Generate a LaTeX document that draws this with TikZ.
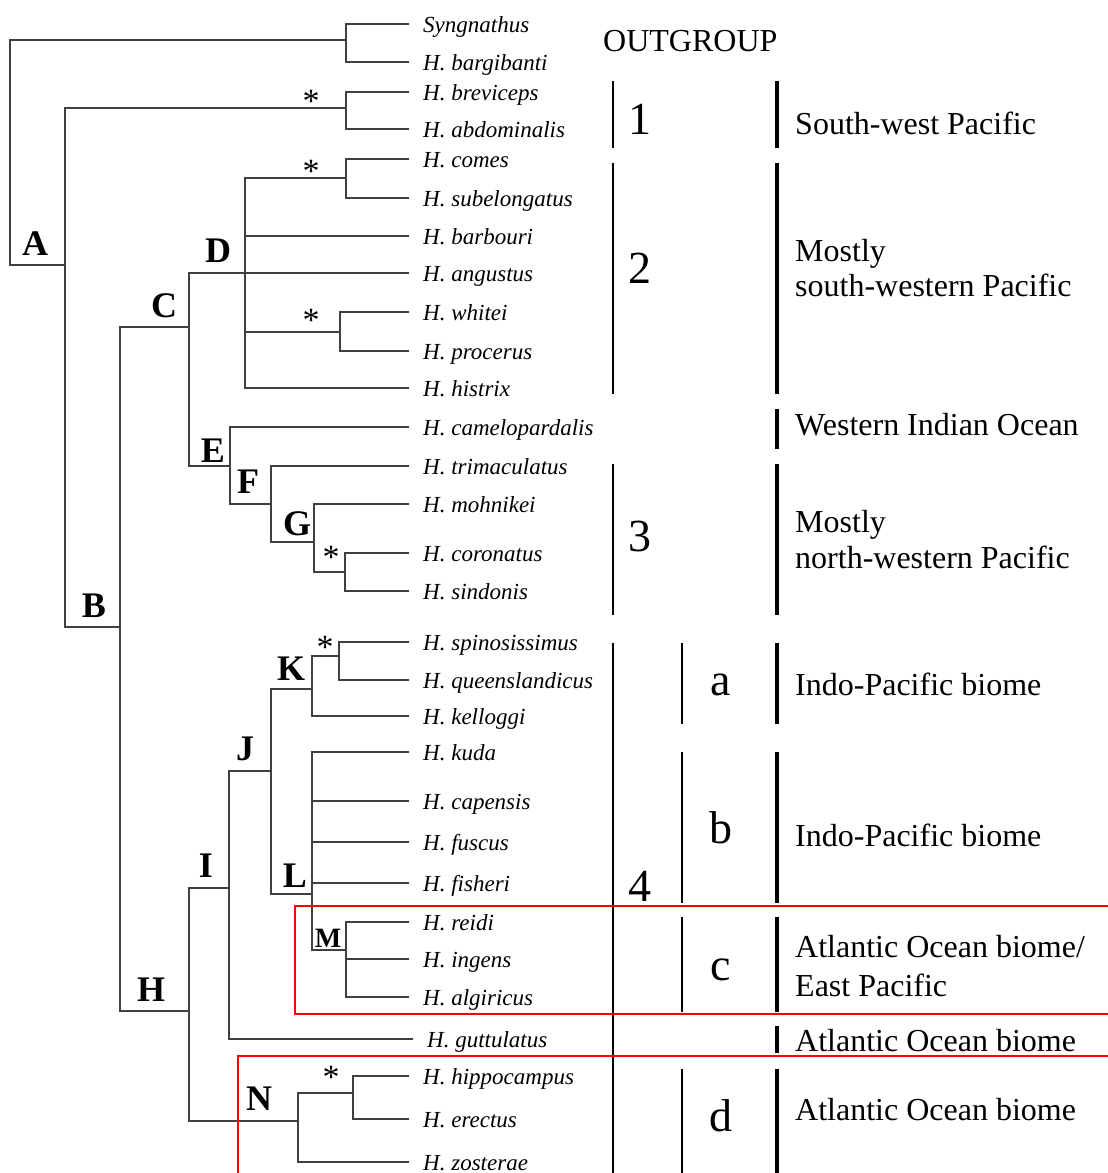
\documentclass[tikz,border=0pt]{standalone}
\usepackage{fontspec}
\setmainfont{Liberation Serif}
\begin{document}
\begin{tikzpicture}[x=1pt,y=-1pt]
\tikzstyle{branch} = [line width=1.6pt, draw=black!75]
\tikzstyle{species} = [anchor=west, inner xsep=14pt, inner ysep=0pt, text height=19pt, text depth=3pt, font=\fontsize{23}{26}\selectfont\itshape]
\tikzstyle{clade} = [anchor=base, inner sep=0pt, font=\fontsize{36}{40}\selectfont\bfseries]
\tikzstyle{support} = [anchor=base, inner sep=0pt, font=\fontsize{34}{36}\selectfont]
\tikzstyle{groupnum} = [anchor=base, inner sep=0pt, font=\fontsize{46}{50}\selectfont]
\tikzstyle{region} = [anchor=base west, inner sep=0pt, font=\fontsize{32}{37}\selectfont]
\tikzstyle{thinbar} = [line width=1.6pt]
\tikzstyle{thickbar} = [line width=3.6pt]
\tikzstyle{redbox} = [line width=1.6pt, draw=red]

\useasboundingbox (0,0) rectangle (1108,1173);

% species
\node(spSyngnathus) [species] at (409,24) {Syngnathus};
\node(spBargibanti) [species] at (409,62) {H. bargibanti};
\node(spBreviceps) [species] at (409,92) {H. breviceps};
\node(spAbdominalis) [species] at (409,129) {H. abdominalis};
\node(spComes) [species] at (409,159) {H. comes};
\node(spSubelongatus) [species] at (409,198) {H. subelongatus};
\node(spBarbouri) [species] at (409,236) {H. barbouri};
\node(spAngustus) [species] at (409,273) {H. angustus};
\node(spWhitei) [species] at (409,312) {H. whitei};
\node(spProcerus) [species] at (409,351) {H. procerus};
\node(spHistrix) [species] at (409,388) {H. histrix};
\node(spCamelopardalis) [species] at (409,427) {H. camelopardalis};
\node(spTrimaculatus) [species] at (409,466) {H. trimaculatus};
\node(spMohnikei) [species] at (409,504) {H. mohnikei};
\node(spCoronatus) [species] at (409,553) {H. coronatus};
\node(spSindonis) [species] at (409,591) {H. sindonis};
\node(spSpinosissimus) [species] at (409,642) {H. spinosissimus};
\node(spQueenslandicus) [species] at (409,680) {H. queenslandicus};
\node(spKelloggi) [species] at (409,716) {H. kelloggi};
\node(spKuda) [species] at (409,752) {H. kuda};
\node(spCapensis) [species] at (409,801) {H. capensis};
\node(spFuscus) [species] at (409,842) {H. fuscus};
\node(spFisheri) [species] at (409,883) {H. fisheri};
\node(spReidi) [species] at (409,922) {H. reidi};
\node(spIngens) [species] at (409,959) {H. ingens};
\node(spAlgiricus) [species] at (409,997) {H. algiricus};
\node(spGuttulatus) [species] at (413,1039) {H. guttulatus};
\node(spHippocampus) [species] at (409,1076) {H. hippocampus};
\node(spErectus) [species] at (409,1119) {H. erectus};
\node(spZosterae) [species] at (409,1162) {H. zosterae};

% inner nodes
\coordinate (nRoot) at (10,150);
\coordinate (nOut) at (346,40);
\coordinate (nA) at (65,265);
\coordinate (nOne) at (346,108);
\coordinate (nB) at (120,627);
\coordinate (nC) at (189,327);
\coordinate (nD) at (245,273);
\coordinate (nComes) at (346,178);
\coordinate (nWhitei) at (340,332);
\coordinate (nE) at (230,466);
\coordinate (nF) at (271,504);
\coordinate (nG) at (314,542);
\coordinate (nCor) at (345,572);
\coordinate (nH) at (189,1011);
\coordinate (nI) at (229,888);
\coordinate (nJ) at (271,771);
\coordinate (nK) at (312,689);
\coordinate (nSpin) at (339,656);
\coordinate (nL) at (312,894);
\coordinate (nM) at (346,950);
\coordinate (nN) at (298,1121);
\coordinate (nHip) at (353,1093);

% branches
\draw[branch] (nOut) -| (nRoot) |- (nA);
\draw[branch] (spSyngnathus.west) -| (nOut) |- (spBargibanti.west);
\draw[branch] (nOne) -| (nA) |- (nB);
\draw[branch] (spBreviceps.west) -| (nOne) |- (spAbdominalis.west);
\draw[branch] (nC) -| (nB) |- (nH);
\draw[branch] (nD) -| (nC) |- (nE);
\draw[branch] (nComes) -| (nD) |- (spHistrix.west);
\draw[branch] (spComes.west) -| (nComes) |- (spSubelongatus.west);
\draw[branch] (nD |- spBarbouri.west) -- (spBarbouri.west);
\draw[branch] (nD |- spAngustus.west) -- (spAngustus.west);
\draw[branch] (nD |- nWhitei) -- (nWhitei);
\draw[branch] (spWhitei.west) -| (nWhitei) |- (spProcerus.west);
\draw[branch] (spCamelopardalis.west) -| (nE) |- (nF);
\draw[branch] (spTrimaculatus.west) -| (nF) |- (nG);
\draw[branch] (spMohnikei.west) -| (nG) |- (nCor);
\draw[branch] (spCoronatus.west) -| (nCor) |- (spSindonis.west);
\draw[branch] (nI) -| (nH) |- (nN);
\draw[branch] (nJ) -| (nI) |- (spGuttulatus.west);
\draw[branch] (nK) -| (nJ) |- (nL);
\draw[branch] (nSpin) -| (nK) |- (spKelloggi.west);
\draw[branch] (spSpinosissimus.west) -| (nSpin) |- (spQueenslandicus.west);
\draw[branch] (spKuda.west) -| (nL) |- (nM);
\draw[branch] (nL |- spCapensis.west) -- (spCapensis.west);
\draw[branch] (nL |- spFuscus.west) -- (spFuscus.west);
\draw[branch] (nL |- spFisheri.west) -- (spFisheri.west);
\draw[branch] (spReidi.west) -| (nM) |- (spAlgiricus.west);
\draw[branch] (nM |- spIngens.west) -- (spIngens.west);
\draw[branch] (nHip) -| (nN) |- (spZosterae.west);
\draw[branch] (spHippocampus.west) -| (nHip) |- (spErectus.west);

% clade letters
\node(labA) [clade] at (35,255) {A};
\node(labB) [clade] at (94,617) {B};
\node(labC) [clade] at (164,317) {C};
\node(labD) [clade] at (218,262) {D};
\node(labE) [clade] at (213,462) {E};
\node(labF) [clade] at (248,493) {F};
\node(labG) [clade] at (297,535) {G};
\node(labH) [clade] at (151,1001) {H};
\node(labI) [clade] at (206,877) {I};
\node(labJ) [clade] at (245,760) {J};
\node(labK) [clade] at (291,680) {K};
\node(labL) [clade] at (295,887) {L};
\node(labM) [clade, font=\fontsize{28}{30}\selectfont\bfseries] at (328,947) {M};
\node(labN) [clade] at (259,1110) {N};

% asterisks
\node(supOne) [support] at (311,112) {*};
\node(supComes) [support] at (311,182) {*};
\node(supWhitei) [support] at (311,331) {*};
\node(supCor) [support] at (331,568) {*};
\node(supSpin) [support] at (325,658) {*};
\node(supHip) [support] at (331,1088) {*};

% groups
\node(outgroup) [region] at (603,51) {OUTGROUP};
\draw[thinbar] (613,81) -- (613,148);
\draw[thinbar] (613,163) -- (613,394);
\draw[thinbar] (613,464) -- (613,615);
\draw[thinbar] (613,643) -- (613,1173);
\node(grpOne) [groupnum] at (640,134) {1};
\node(grpTwo) [groupnum] at (640,283) {2};
\node(grpThree) [groupnum] at (640,551) {3};
\node(grpFour) [groupnum] at (640,901) {4};

\draw[thinbar] (682,643) -- (682,724);
\draw[thinbar] (682,752) -- (682,903);
\draw[thinbar] (682,917) -- (682,1012);
\draw[thinbar] (682,1069) -- (682,1173);
\node(subA) [groupnum] at (721,695) {a};
\node(subB) [groupnum] at (721,843) {b};
\node(subC) [groupnum] at (721,980) {c};
\node(subD) [groupnum] at (721,1131) {d};

% regions
\draw[thickbar] (777,81) -- (777,148);
\draw[thickbar] (777,163) -- (777,394);
\draw[thickbar] (777,409) -- (777,449);
\draw[thickbar] (777,464) -- (777,615);
\draw[thickbar] (777,643) -- (777,724);
\draw[thickbar] (777,752) -- (777,903);
\draw[thickbar] (777,917) -- (777,1012);
\draw[thickbar] (777,1026) -- (777,1053);
\draw[thickbar] (777,1069) -- (777,1173);
\node(regSW) [region] at (795,134) {South-west Pacific};
\node(regMostlySW) [region] at (795,261) {Mostly};
\node(regSWestern) [region] at (795,296) {south-western Pacific};
\node(regWIO) [region] at (795,435) {Western Indian Ocean};
\node(regMostlyNW) [region] at (795,532) {Mostly};
\node(regNWestern) [region] at (795,568) {north-western Pacific};
\node(regIPa) [region] at (795,695) {Indo-Pacific biome};
\node(regIPb) [region] at (795,846) {Indo-Pacific biome};
\node(regAtlEP) [region] at (795,957) {Atlantic Ocean biome/};
\node(regEP) [region] at (795,996) {East Pacific};
\node(regAtlGut) [region] at (795,1051) {Atlantic Ocean biome};
\node(regAtlD) [region] at (795,1120) {Atlantic Ocean biome};

% highlight boxes
\draw[redbox] (1110,906) -- (295,906) -- (295,1014) -- (1110,1014);
\draw[redbox] (1110,1056) -- (238,1056) -- (238,1175);
\end{tikzpicture}
\end{document}
